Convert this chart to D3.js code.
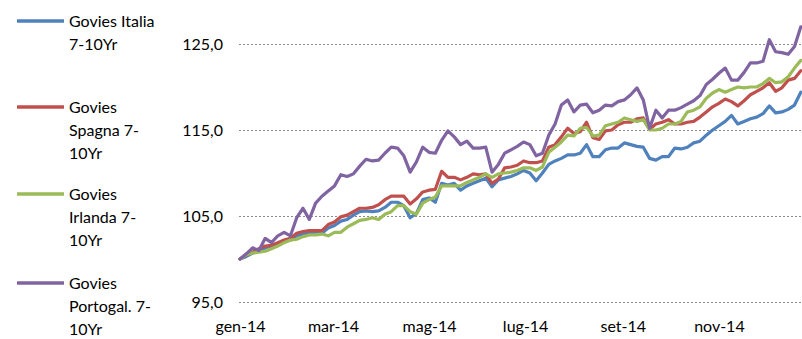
<!DOCTYPE html>
<html>
<head>
<meta charset="utf-8">
<script src="https://cdn.jsdelivr.net/npm/d3@7"></script>
<style>
  html, body { margin: 0; padding: 0; background: #fff; }
  svg { display: block; }
  text { font-family: Lato, "Liberation Sans", sans-serif; fill: #000; }
</style>
</head>
<body>
<svg id="chart" width="802" height="339"></svg>
<script>
// Index levels (base 100 = start of 2014), sampled every 4 days through the year
const startDate = new Date(2014, 0, 1);
const sampleDates = d3.timeDay.range(startDate, new Date(2014, 11, 27), 4);

const seriesNames = [
  ["Govies Italia", "7-10Yr"],
  ["Govies", "Spagna 7-", "10Yr"],
  ["Govies", "Irlanda 7-", "10Yr"],
  ["Govies", "Portogal. 7-", "10Yr"]
];

const italia = [
  100.0,100.3,100.7,100.9,101.3,101.5,101.7,102.0,102.2,102.7,
  102.9,103.0,103.0,103.0,103.6,103.9,104.4,104.6,105.1,105.5,
  105.6,105.5,105.6,106.0,106.6,106.6,106.2,104.8,105.3,106.9,
  107.1,106.6,108.8,108.6,108.8,108.0,108.5,108.8,109.1,109.4,
  108.4,109.2,109.4,109.6,109.9,110.3,110.0,109.1,110.0,111.0,
  111.4,111.7,112.1,112.1,112.3,113.3,111.9,111.9,112.7,112.9,
  112.9,113.5,113.3,113.1,113.0,111.7,111.5,111.9,111.9,112.9,
  112.8,113.0,113.5,113.7,114.4,115.0,115.5,116.0,116.7,115.7,
  116.0,116.3,116.5,116.9,117.8,117.0,117.1,117.4,117.9,119.4
];

const spagna = [
  100.0,100.5,100.8,101.2,101.5,101.6,101.9,102.2,102.4,103.0,
  103.2,103.3,103.3,103.3,104.0,104.3,104.9,105.1,105.5,105.9,
  105.9,106.0,106.3,106.9,107.3,107.3,107.3,106.4,107.0,107.8,
  108.0,108.1,110.2,109.5,109.5,109.2,109.5,109.9,109.8,109.9,
  108.8,109.3,110.6,110.7,110.9,111.4,111.2,111.2,111.4,113.0,
  113.3,114.2,115.2,114.6,114.8,115.9,114.1,113.9,114.9,115.0,
  115.6,115.9,115.9,116.3,116.4,115.1,115.7,115.9,116.2,115.7,
  115.7,115.9,116.0,116.5,117.1,117.7,118.1,118.6,118.3,117.8,
  118.4,119.1,119.5,119.9,120.5,119.5,119.9,120.8,121.0,121.9
];

const irlanda = [
  100.0,100.5,100.7,100.8,100.9,101.2,101.5,101.9,102.2,102.3,
  102.6,102.8,102.8,102.9,102.7,103.1,103.1,103.7,104.1,104.5,
  104.6,104.8,104.6,105.2,105.5,106.2,106.2,105.5,105.2,106.5,
  106.9,107.2,108.5,108.5,108.5,108.5,108.9,109.2,109.5,109.9,
  109.5,109.9,110.0,110.1,110.3,110.6,110.6,110.3,110.7,112.4,
  113.0,113.6,114.4,114.3,115.2,115.3,114.3,114.4,115.5,115.7,
  115.9,116.4,116.2,116.0,116.2,115.0,115.0,115.2,115.7,115.7,
  116.0,117.1,117.3,117.7,118.7,119.3,119.7,119.4,119.7,120.0,
  119.9,120.0,120.0,120.4,121.0,120.5,120.6,121.2,122.2,123.1
];

const portogallo = [
  100.0,100.6,101.3,101.0,102.4,101.9,102.7,103.1,102.7,104.8,
  105.9,104.6,106.5,107.3,107.9,108.5,109.8,109.6,109.9,110.8,
  111.6,111.4,111.5,112.3,113.0,112.9,112.0,110.1,111.3,113.0,
  112.4,112.3,113.8,114.9,114.2,113.3,113.7,112.9,112.9,113.0,
  110.1,111.0,112.3,112.7,113.1,113.6,113.3,112.0,112.3,114.4,
  115.7,117.9,118.5,117.1,117.9,118.0,117.0,117.3,117.9,117.8,
  118.3,118.5,119.1,119.9,118.5,115.2,117.3,116.4,117.3,117.3,
  117.6,118.0,118.4,119.0,120.3,120.9,121.6,122.2,120.8,120.8,
  121.7,122.8,122.8,123.0,125.5,124.1,124.0,123.8,124.7,127.0
];

const seriesColors = ["#4F81BD", "#C0504D", "#9BBB59", "#8064A2"];
const yTickValues = [95, 105, 115, 125];
const xTickValues = [0, 2, 4, 6, 8, 10].map(m => new Date(2014, m, 1));

const seriesValues = [italia, spagna, irlanda, portogallo];

// Italian month abbreviations for the date axis
const itLocale = d3.timeFormatLocale({
  dateTime: "%A %e %B %Y, %X", date: "%d/%m/%Y", time: "%H:%M:%S",
  periods: ["AM", "PM"],
  days: ["domenica","lunedì","martedì","mercoledì","giovedì","venerdì","sabato"],
  shortDays: ["dom","lun","mar","mer","gio","ven","sab"],
  months: ["gennaio","febbraio","marzo","aprile","maggio","giugno","luglio","agosto","settembre","ottobre","novembre","dicembre"],
  shortMonths: ["gen","feb","mar","apr","mag","giu","lug","ago","set","ott","nov","dic"]
});
const fmtDate = itLocale.format("%b-%y");
const fmtValue = d => d3.format(".1f")(d).replace(".", ",");

const svg = d3.select("#chart");

const x = d3.scaleTime()
  .domain([startDate, new Date(2015, 0, 1)])
  .range([240, 815]);
const y = d3.scaleLinear()
  .domain([95, 125])
  .range([302, 44]);

// Dotted horizontal gridlines
svg.append("g")
  .selectAll("line")
  .data(yTickValues)
  .join("line")
  .attr("x1", 239)
  .attr("x2", 802)
  .attr("y1", d => Math.round(y(d)) + 0.5)
  .attr("y2", d => Math.round(y(d)) + 0.5)
  .attr("stroke", "#8c8c8c")
  .attr("stroke-width", 1)
  .attr("stroke-dasharray", "2,2");

// Value axis labels
const yAxis = d3.axisLeft(y).tickValues(yTickValues).tickFormat(fmtValue).tickSize(0).tickPadding(0);
const gy = svg.append("g").attr("transform", "translate(223,0)").call(yAxis);
gy.select(".domain").remove();
gy.selectAll("text").attr("font-size", 16).attr("font-family", "Lato, 'Liberation Sans', sans-serif").attr("dy", "0.35em");

// Date axis labels
const xAxis = d3.axisBottom(x).tickValues(xTickValues).tickFormat(fmtDate).tickSize(0).tickPadding(0);
const gx = svg.append("g").attr("transform", "translate(0,321)").call(xAxis);
gx.select(".domain").remove();
gx.selectAll("text").attr("font-size", 16).attr("font-family", "Lato, 'Liberation Sans', sans-serif").attr("dy", "0.71em");

// Series lines
const line = d3.line()
  .x((d, i) => x(sampleDates[i]))
  .y(d => y(d));

svg.append("g")
  .selectAll("path")
  .data(seriesValues)
  .join("path")
  .attr("d", d => line(d))
  .attr("fill", "none")
  .attr("stroke", (d, i) => seriesColors[i])
  .attr("stroke-width", 3.2)
  .attr("stroke-linejoin", "round")
  .attr("stroke-linecap", "round");

// Legend
const legendY = [21, 107, 194, 283];
const legend = svg.append("g")
  .selectAll("g")
  .data(seriesNames)
  .join("g")
  .attr("transform", (d, i) => `translate(0,${legendY[i]})`);

legend.append("line")
  .attr("x1", 17).attr("x2", 64)
  .attr("y1", 0).attr("y2", 0)
  .attr("stroke", (d, i) => seriesColors[i])
  .attr("stroke-width", 3.5);

legend.append("text")
  .attr("x", 69)
  .attr("y", 6)
  .attr("font-size", 16)
  .selectAll("tspan")
  .data(d => d)
  .join("tspan")
  .attr("x", 69)
  .attr("dy", (d, i) => i === 0 ? 0 : 23)
  .text(d => d);
</script>
</body>
</html>
